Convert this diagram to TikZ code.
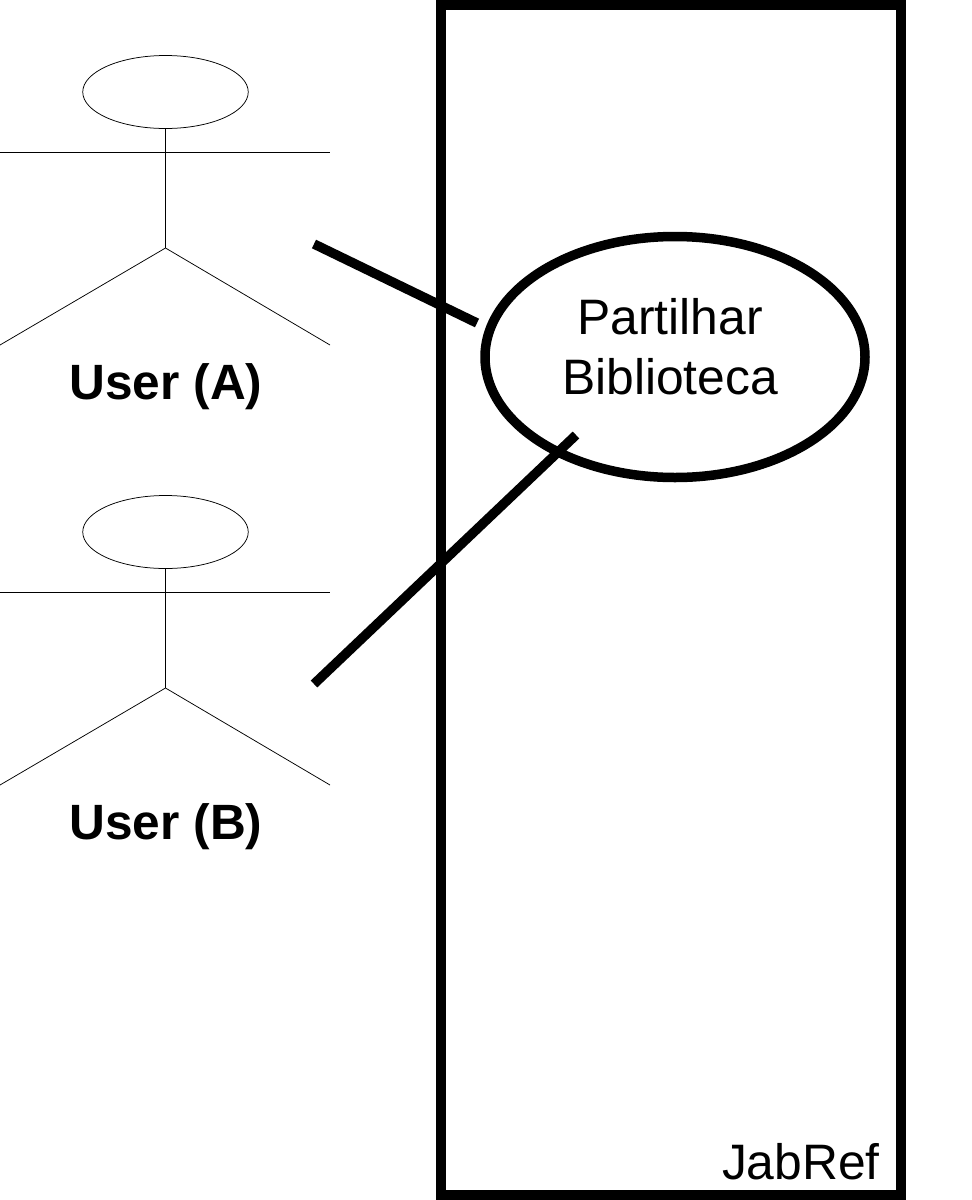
\documentclass[tikz,border=0pt]{standalone}
\usepackage{fontspec}
\setmainfont{Liberation Sans}
\usetikzlibrary{shapes.geometric}
\begin{document}
\begin{tikzpicture}[x=1pt,y=-1pt,
  thin line/.style={line width=0.75pt,draw=black},
  thick line/.style={line width=9.5pt,draw=black},
  head/.style={ellipse,draw=black,line width=0.75pt,minimum width=165.5pt,minimum height=73pt,inner sep=0pt},
  usecase/.style={ellipse,draw=black,line width=9.5pt,minimum width=380pt,minimum height=241pt,inner sep=0pt,fill=white},
  lbl/.style={font=\fontsize{49.8}{60}\selectfont,align=center,inner sep=0pt},
  blbl/.style={font=\fontsize{49.6}{60}\selectfont\bfseries,inner sep=0pt}]
\useasboundingbox (0,0) rectangle (972,1200);
% system box
\coordinate (s1) at (441,5);
\coordinate (s2) at (901,1195);
\draw[line width=9.5pt] (s1) rectangle (s2);
\node[lbl,anchor=east] (jabref) at (880,1162) {JabRef};
% use case
\node[usecase] (uc) at (675,357) {};
\node[lbl] (uctext) at (670,347) {Partilhar\\[0pt]Biblioteca};
% actor A
\node[head] (ha) at (165.5,92) {};
\coordinate (hipA) at (165.5,248);
\coordinate (armLA) at (0,152);
\coordinate (armRA) at (330,152);
\coordinate (legLA) at (0,345);
\coordinate (legRA) at (330,345);
\draw[thin line] (ha.south) -- (hipA);
\draw[thin line] (armLA) -- (armRA);
\draw[thin line] (legLA) -- (hipA) -- (legRA);
\node[blbl] (ua) at (166,386.5) {User (A)};
% actor B
\node[head] (hb) at (165.5,532) {};
\coordinate (hipB) at (165.5,688);
\coordinate (armLB) at (0,592);
\coordinate (armRB) at (330,592);
\coordinate (legLB) at (0,785);
\coordinate (legRB) at (330,785);
\draw[thin line] (hb.south) -- (hipB);
\draw[thin line] (armLB) -- (armRB);
\draw[thin line] (legLB) -- (hipB) -- (legRB);
\node[blbl] (ub) at (166,826.5) {User (B)};
% connectors
\coordinate (ca) at (314,244);
\coordinate (cb) at (314,684);
\coordinate (ea) at (477,323);
\coordinate (eb) at (576,435);
\draw[thick line] (ca) -- (ea);
\draw[thick line] (cb) -- (eb);
\end{tikzpicture}
\end{document}
